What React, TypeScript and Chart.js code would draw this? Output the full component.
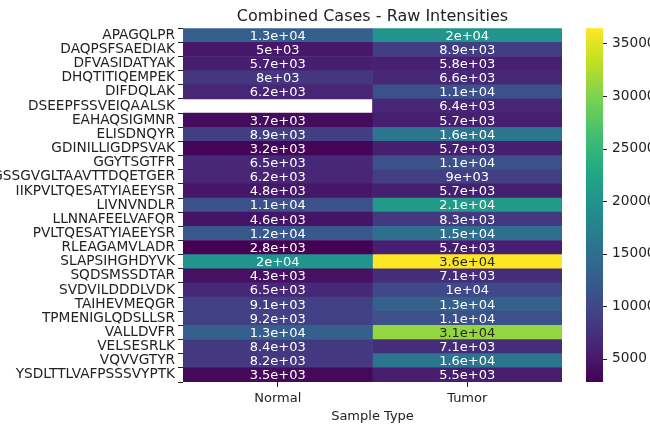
import React, { useEffect, useRef } from 'react';
import { Chart, registerables } from 'chart.js';

Chart.register(...registerables);

const peptides = [
  'APAGQLPR', 'DAQPSFSAEDIAK', 'DFVASIDATYAK', 'DHQTITIQEMPEK', 'DIFDQLAK',
  'DSEEPFSSVEIQAALSK', 'EAHAQSIGMNR', 'ELISDNQYR', 'GDINILLIGDPSVAK', 'GGYTSGTFR',
  'GSSGVGLTAAVTTDQETGER', 'IIKPVLTQESATYIAEEYSR', 'LIVNVNDLR', 'LLNNAFEELVAFQR',
  'PVLTQESATYIAEEYSR', 'RLEAGAMVLADR', 'SLAPSIHGHDYVK', 'SQDSMSSDTAR', 'SVDVILDDDLVDK',
  'TAIHEVMEQGR', 'TPMENIGLQDSLLSR', 'VALLDVFR', 'VELSESRLK', 'VQVVGTYR', 'YSDLTTLVAFPSSSVYPTK',
];

const normalValues: (number | null)[] = [
  13000, 5000, 5700, 8000, 6200, null, 3700, 8900, 3200, 6500,
  6200, 4800, 11000, 4600, 12000, 2780, 20000, 4300, 6500, 9100,
  9200, 13000, 8400, 8200, 3500,
];

const tumorValues: (number | null)[] = [
  20000, 8900, 5800, 6600, 11000, 6400, 5700, 16000, 5700, 11000,
  9000, 5700, 21000, 8300, 15000, 5700, 36400, 7100, 10000, 13000,
  11000, 31000, 7100, 16000, 5500,
];

const sampleTypes = ['Normal', 'Tumor'];
const colorbarTicks = [5000, 10000, 15000, 20000, 25000, 30000, 35000];
const vMin = 2780;
const vMax = 36450;

const viridis: number[][] = [
  [68, 1, 84], [72, 36, 117], [65, 68, 135], [53, 95, 141], [42, 120, 142],
  [33, 145, 140], [34, 168, 132], [68, 191, 112], [122, 209, 81], [189, 223, 38], [253, 231, 37],
];

function rgbAt(t: number): number[] {
  const c = Math.max(0, Math.min(1, t));
  const p = c * (viridis.length - 1);
  const i = Math.floor(p);
  if (i >= viridis.length - 1) return viridis[viridis.length - 1];
  const f = p - i;
  const a = viridis[i], b = viridis[i + 1];
  return [0, 1, 2].map((k) => Math.round(a[k] + (b[k] - a[k]) * f));
}

function colorFor(v: number): string {
  const [r, g, b] = rgbAt((v - vMin) / (vMax - vMin));
  return `rgb(${r},${g},${b})`;
}

function luminance(v: number): number {
  const rgb = rgbAt((v - vMin) / (vMax - vMin)).map((x) => {
    const s = x / 255;
    return s <= 0.03928 ? s / 12.92 : Math.pow((s + 0.055) / 1.055, 2.4);
  });
  return 0.2126 * rgb[0] + 0.7152 * rgb[1] + 0.0722 * rgb[2];
}

function fmt2g(v: number): string {
  const s = v.toExponential(1);
  const [m, e] = s.split('e');
  const mant = m.replace(/\.0$/, '');
  const sign = e[0] === '-' ? '-' : '+';
  const digits = e.replace(/^[+-]/, '').padStart(2, '0');
  return `${mant}e${sign}${digits}`;
}

const series = [normalValues, tumorValues];
const FONT = "'DejaVu Sans', sans-serif";
const TEXT = '#222';

export default function App() {
  const ref = useRef<HTMLCanvasElement | null>(null);

  useEffect(() => {
    if (!ref.current) return;

    const annotations = {
      id: 'annotations',
      afterDatasetsDraw(chart: any) {
        const ctx = chart.ctx;
        const xs = chart.scales.x;
        const ys = chart.scales.y;
        ctx.save();
        ctx.font = `13px ${FONT}`;
        ctx.textAlign = 'center';
        ctx.textBaseline = 'middle';
        series.forEach((vals, col) => {
          vals.forEach((v, row) => {
            if (v == null) return;
            ctx.fillStyle = luminance(v) > 0.408 ? '#262626' : '#ffffff';
            ctx.fillText(fmt2g(v), xs.getPixelForValue(col + 0.5), ys.getPixelForValue(row) + 1);
          });
        });
        ctx.restore();
      },
    };

    const colorbar = {
      id: 'colorbar',
      afterDraw(chart: any) {
        const ctx = chart.ctx;
        const cb = chart.scales.cb;
        const area = chart.chartArea;
        const x0 = area.right + 24;
        const w = 17;
        const top = cb.getPixelForValue(vMax);
        const bottom = cb.getPixelForValue(vMin);
        ctx.save();
        const grad = ctx.createLinearGradient(0, bottom, 0, top);
        viridis.forEach((c, i) => {
          grad.addColorStop(i / (viridis.length - 1), `rgb(${c[0]},${c[1]},${c[2]})`);
        });
        ctx.fillStyle = grad;
        ctx.fillRect(x0, top, w, bottom - top);
        ctx.strokeStyle = TEXT;
        ctx.lineWidth = 1;
        colorbarTicks.forEach((t) => {
          const y = Math.round(cb.getPixelForValue(t)) + 0.5;
          ctx.beginPath();
          ctx.moveTo(x0 + w, y);
          ctx.lineTo(x0 + w + 4, y);
          ctx.stroke();
        });
        ctx.restore();
      },
    };

    const chart = new Chart(ref.current, {
      type: 'bar',
      data: {
        labels: peptides,
        datasets: series.map((vals, col) => ({
          label: sampleTypes[col],
          data: vals.map((v) => (v == null ? null : [col, col + 1])) as any,
          backgroundColor: (c: any) => {
            const v = series[c.datasetIndex][c.dataIndex];
            return v == null ? 'rgba(0,0,0,0)' : colorFor(v);
          },
          borderWidth: 0,
          grouped: false,
          barPercentage: 1,
          categoryPercentage: 1,
        })),
      },
      options: {
        indexAxis: 'y',
        animation: false,
        responsive: true,
        maintainAspectRatio: false,
        layout: { padding: { left: 0, right: 0, top: 0, bottom: 0 } },
        plugins: {
          legend: { display: false },
          tooltip: { enabled: false },
          title: {
            display: true,
            fullSize: false,
            text: 'Combined Cases - Raw Intensities',
            color: TEXT,
            font: { family: FONT, size: 16, weight: 'normal' },
            padding: { top: 7, bottom: 2 },
          },
        },
        scales: {
          x: {
            type: 'linear',
            min: 0,
            max: 2,
            offset: false,
            afterBuildTicks: (s: any) => {
              s.ticks = [{ value: 0.5 }, { value: 1.5 }];
            },
            afterFit: (s: any) => {
              s.height = 51;
              s.paddingLeft = 0;
              s.paddingRight = 0;
            },
            ticks: {
              autoSkip: false,
              maxRotation: 0,
              color: TEXT,
              font: { family: FONT, size: 13 },
              padding: 4,
              callback: (v: any) => (Math.abs(v - 0.5) < 0.01 ? sampleTypes[0] : sampleTypes[1]),
            },
            grid: { drawOnChartArea: false, drawTicks: true, tickLength: 5, color: TEXT },
            border: { display: false },
            title: {
              display: true,
              text: 'Sample Type',
              color: TEXT,
              font: { family: FONT, size: 13 },
              padding: { top: 2, bottom: 9 },
            },
          },
          y: {
            type: 'category',
            afterFit: (s: any) => {
              s.width = 183;
              s.paddingTop = 0;
              s.paddingBottom = 0;
            },
            ticks: {
              autoSkip: false,
              color: TEXT,
              font: { family: FONT, size: 13.7 },
              padding: 3,
            },
            grid: { drawOnChartArea: false, drawTicks: true, tickLength: 5, color: TEXT },
            border: { display: false },
          },
          cb: {
            type: 'linear',
            position: 'right',
            offset: false,
            min: vMin,
            max: vMax,
            afterBuildTicks: (s: any) => {
              s.ticks = colorbarTicks.map((v) => ({ value: v }));
            },
            afterFit: (s: any) => {
              s.width = 88;
              s.paddingTop = 0;
              s.paddingBottom = 0;
            },
            ticks: {
              color: TEXT,
              font: { family: FONT, size: 13.7 },
              padding: 2,
              callback: (v: any) => String(v),
            },
            grid: {
              display: true,
              offset: false,
              drawOnChartArea: false,
              drawTicks: true,
              tickLength: 48,
              color: 'rgba(0,0,0,0)',
            },
            border: { display: false },
          },
        },
      } as any,
      plugins: [annotations, colorbar],
    });

    return () => chart.destroy();
  }, []);

  return (
    <div style={{ position: 'absolute', left: 0, top: 0, width: 650, height: 433, background: '#fff' }}>
      <canvas ref={ref} />
    </div>
  );
}
